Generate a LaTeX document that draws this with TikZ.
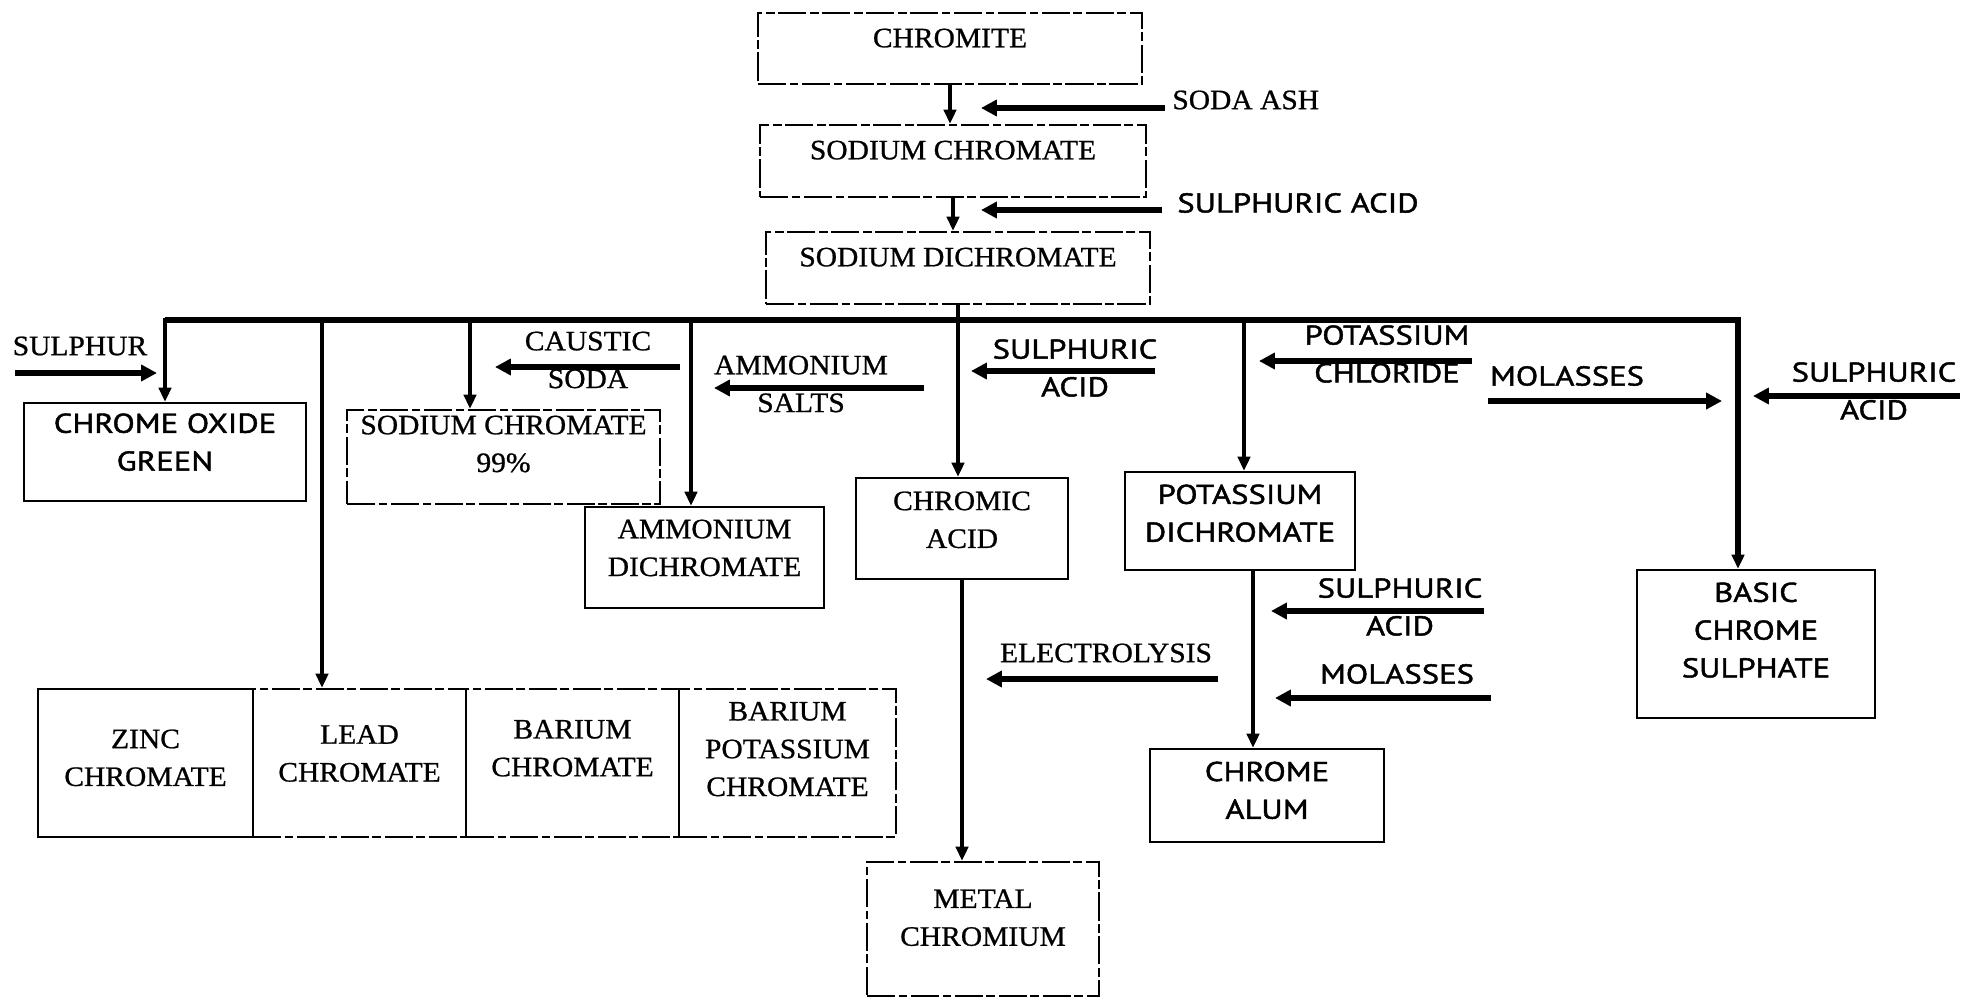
\documentclass[tikz,border=0pt]{standalone}
\usepackage{fontspec}
\setmainfont{Liberation Serif}[FakeStretch=1.05, FakeBold=0.8]
\newfontfamily\labsans{PT Sans}[FakeStretch=1.2, FakeBold=1.6]
\usepackage{tikz}
\usetikzlibrary{arrows.meta, calc}
\newcommand{\boxlift}[1]{\rule[-#1]{0pt}{#1}}

\begin{document}
\begin{tikzpicture}[x=0.02cm, y=-0.02cm,
    every node/.style={font=\fontsize{16}{21.5}\selectfont, align=center, inner sep=0pt},
    sanstext/.style={font=\labsans\fontsize{15.5}{21.5}\selectfont},
    unitbox/.style={draw, line width=1.4pt},
    scanbox/.style={dash pattern=on 16pt off 2pt on 5pt off 2pt},
    boxsize/.style 2 args={minimum width=#1*0.02cm, minimum height=#2*0.02cm},
    flow/.style={line width=2.6pt, -{Triangle[length=8pt, width=7pt]}},
    feed/.style={line width=3.4pt, -{Triangle[length=9pt, width=9pt]}}]
    \useasboundingbox (0,0) rectangle (1964,1000);

    % MAIN CHAIN
    \node[unitbox, scanbox, boxsize={384}{71}] (chromite) at (950,48.5) {CHROMITE\boxlift{12pt}};
    \node[unitbox, scanbox, boxsize={386}{72}] (nachrom) at (953,161) {SODIUM CHROMATE\boxlift{12.5pt}};
    \node[unitbox, scanbox, boxsize={384}{72}] (nadichrom) at (958,268) {SODIUM DICHROMATE\boxlift{12.5pt}};
    \draw[flow] (chromite.south) -- (chromite.south |- nachrom.north);
    \draw[flow] (nachrom.south) -- (nachrom.south |- nadichrom.north);

    \coordinate (sodaT) at (1165,108);
    \coordinate (sodaH) at (981,108);
    \node[anchor=west] (sodaash) at (1172,100) {SODA ASH};
    \draw[feed] (sodaT) -- (sodaH);
    \coordinate (acidaT) at (1162,210);
    \coordinate (acidaH) at (981,210);
    \node[sanstext, anchor=west] (acida) at (1177,203) {SULPHURIC ACID};
    \draw[feed] (acidaT) -- (acidaH);

    % PRODUCTS
    \node[unitbox, boxsize={282}{98}, sanstext] (cog) at (165,452) {CHROME OXIDE\\GREEN\boxlift{11.4pt}};
    \node[unitbox, scanbox, boxsize={313}{94}] (na99) at (503.5,457) {SODIUM CHROMATE\\99\%\boxlift{15pt}};
    \node[unitbox, boxsize={239}{101}] (ammdi) at (704.5,557.5) {AMMONIUM\\DICHROMATE\boxlift{11pt}};
    \node[unitbox, boxsize={212}{101}] (chromic) at (962,528.5) {CHROMIC\\ACID\boxlift{10pt}};
    \node[unitbox, boxsize={230}{98}, sanstext] (potdi) at (1240,521) {POTASSIUM\\DICHROMATE\boxlift{9pt}};
    \node[unitbox, boxsize={238}{148}, sanstext] (basic) at (1756,644) {BASIC\\CHROME\\SULPHATE\boxlift{16pt}};
    \node[unitbox, boxsize={234}{93}, sanstext] (alum) at (1267,795.5) {CHROME\\ALUM\boxlift{6pt}};
    \node[unitbox, scanbox, boxsize={232}{134}] (metal) at (983,929) {METAL\\CHROMIUM\boxlift{13pt}};

    % PIGMENT ROW
    \node[unitbox, boxsize={215}{148}] (zinc) at (145.5,763) {ZINC\\CHROMATE\boxlift{6pt}};
    \node[unitbox, scanbox, boxsize={213}{148}] (lead) at (359.5,763) {LEAD\\CHROMATE\boxlift{11pt}};
    \node[unitbox, scanbox, boxsize={213}{148}] (barium) at (572.5,763) {BARIUM\\CHROMATE\boxlift{17pt}};
    \node[unitbox, scanbox, boxsize={217}{148}] (bapot) at (787.5,763) {BARIUM\\POTASSIUM\\CHROMATE\boxlift{16pt}};

    % DISTRIBUTION LINE
    \coordinate (busL) at (165,320);
    \coordinate (busR) at (1738,320);
    \draw[flow, line width=3pt, line join=miter] (busL) -- (busR) -- (busR |- basic.north);
    \draw[flow, line cap=rect] (busL) -- (cog.north);
    \coordinate (dropLead) at (322,320);
    \draw[flow] (dropLead) -- (dropLead |- lead.north);
    \coordinate (dropNa) at (470,320);
    \draw[flow] (dropNa) -- (dropNa |- na99.north);
    \coordinate (dropAmm) at (691,320);
    \draw[flow] (dropAmm) -- (dropAmm |- ammdi.north);
    \coordinate (dropPot) at (1244,320);
    \draw[flow] (dropPot) -- (dropPot |- potdi.north);
    \draw[flow] (nadichrom.south) -- (nadichrom.south |- chromic.north);
    \draw[flow] (chromic.south) -- (chromic.south |- metal.north);
    \coordinate (potOut) at ($(potdi.south)+(13,0)$);
    \draw[flow] (potOut) -- (potOut |- alum.north);

    % REAGENTS
    \coordinate (sulT) at (15,373);
    \coordinate (sulH) at (157,373);
    \node (sulphur) at (80,346) {SULPHUR};
    \draw[feed] (sulT) -- (sulH);

    \coordinate (caT) at (680,367);
    \coordinate (caH) at (495,367);
    \node (caustic) at (588,360) {CAUSTIC\\SODA};
    \draw[feed] (caT) -- (caH);

    \coordinate (amT) at (924,388);
    \coordinate (amH) at (714,388);
    \node (ammsalts) at (801,384) {AMMONIUM\\SALTS};
    \draw[feed] (amT) -- (amH);

    \coordinate (acidbT) at (1155,371);
    \coordinate (acidbH) at (971,371);
    \node[sanstext] (acidb) at (1075,368) {SULPHURIC\\ACID};
    \draw[feed] (acidbT) -- (acidbH);

    \coordinate (kclT) at (1472,361);
    \coordinate (kclH) at (1259,361);
    \node[sanstext] (kcl) at (1387,354) {POTASSIUM\\CHLORIDE};
    \draw[feed] (kclT) -- (kclH);

    \coordinate (molaT) at (1488,401);
    \coordinate (molaH) at (1722,401);
    \node[sanstext] (mola) at (1567,376) {MOLASSES};
    \draw[feed] (molaT) -- (molaH);

    \coordinate (acidcT) at (1960,396);
    \coordinate (acidcH) at (1753,396);
    \node[sanstext] (acidc) at (1874,391) {SULPHURIC\\ACID};
    \draw[feed] (acidcT) -- (acidcH);

    \coordinate (aciddT) at (1484,611);
    \coordinate (aciddH) at (1271,611);
    \node[sanstext] (acidd) at (1400,607) {SULPHURIC\\ACID};
    \draw[feed] (aciddT) -- (aciddH);

    \coordinate (molbT) at (1491,698);
    \coordinate (molbH) at (1275,698);
    \node[sanstext] (molb) at (1397,674) {MOLASSES};
    \draw[feed] (molbT) -- (molbH);

    \coordinate (elT) at (1218,679);
    \coordinate (elH) at (986,679);
    \node (electro) at (1106,653) {ELECTROLYSIS};
    \draw[feed] (elT) -- (elH);
\end{tikzpicture}
\end{document}
